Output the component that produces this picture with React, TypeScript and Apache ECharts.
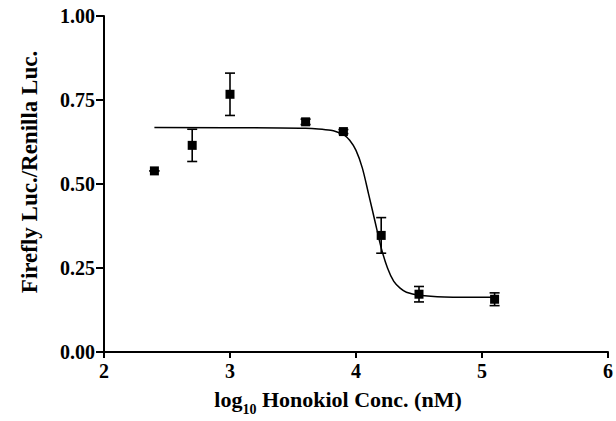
import React, { useEffect, useRef } from "react";
import * as echarts from "echarts";

// Measured points (log10 concentration, mean, error)
const pointX = [2.4, 2.7, 3.0, 3.6, 3.9, 4.2, 4.5, 5.1];
const pointMean = [0.539, 0.615, 0.767, 0.685, 0.656, 0.347, 0.172, 0.157];
const pointErr = [0, 0.048, 0.063, 0.008, 0.006, 0.053, 0.023, 0.019];

// Fitted curve
const curveX = [2.4, 3.4, 3.6, 3.7, 3.8, 3.85, 3.9, 3.95, 4.0, 4.05, 4.1, 4.15, 4.2, 4.25, 4.3, 4.35, 4.4, 4.5, 4.7, 5.1];
const curveY = [0.668, 0.667, 0.666, 0.664, 0.660, 0.655, 0.648, 0.630, 0.600, 0.548, 0.47, 0.39, 0.31, 0.25, 0.21, 0.19, 0.178, 0.169, 0.164, 0.163];

const xTicks = [2, 3, 4, 5, 6];
const yTicks = [0, 0.25, 0.5, 0.75, 1.0];

const FONT = "Liberation Serif";

export default function App() {
  const ref = useRef<HTMLDivElement>(null);
  useEffect(() => {
    if (!ref.current) return;
    const chart = echarts.init(ref.current, undefined, { renderer: "svg" });
    const axisCommon = {
      axisLine: { show: true, lineStyle: { color: "#000", width: 2 } },
      axisTick: { show: true, inside: false, lineStyle: { color: "#000", width: 2 } },
      splitLine: { show: false },
    };
    const labelStyle = {
      color: "#000",
      fontFamily: FONT,
      fontWeight: "bold" as const,
      fontSize: 20,
    };
    chart.setOption({
      animation: false,
      backgroundColor: "#fff",
      textStyle: { fontFamily: FONT, fontWeight: "bold", color: "#000" },
      grid: { left: 104, right: 1, top: 16, bottom: 62, containLabel: false },
      xAxis: {
        type: "value",
        min: xTicks[0],
        max: xTicks[xTicks.length - 1],
        interval: 1,
        ...axisCommon,
        axisTick: { ...axisCommon.axisTick, length: 6 },
        axisLabel: {
          show: true,
          margin: 9,
          ...labelStyle,
          showMinLabel: true,
          showMaxLabel: true,
        },
        name: "{a|log}{b|10}{a| Honokiol Conc. (nM)}",
        nameLocation: "middle",
        nameGap: 30,
        nameTextStyle: {
          fontFamily: FONT,
          fontWeight: "bold",
          fontSize: 22,
          color: "#000",
          padding: [0, 36, 0, 0],
          rich: {
            a: { fontFamily: FONT, fontWeight: "bold", fontSize: 22, color: "#000", lineHeight: 28 },
            b: { fontFamily: FONT, fontWeight: "bold", fontSize: 14, color: "#000", lineHeight: 34, verticalAlign: "bottom" },
          },
        },
      },
      yAxis: {
        type: "value",
        min: yTicks[0],
        max: yTicks[yTicks.length - 1],
        interval: 0.25,
        ...axisCommon,
        axisTick: { ...axisCommon.axisTick, length: 8 },
        axisLabel: {
          show: true,
          margin: 9,
          ...labelStyle,
          formatter: (v: number) => v.toFixed(2),
        },
        name: "Firefly Luc./Renilla Luc.",
        nameLocation: "middle",
        nameGap: 63,
        nameTextStyle: {
          fontFamily: FONT,
          fontWeight: "bold",
          fontSize: 23,
          color: "#000",
          padding: [0, 0, 0, 24],
        },
      },
      series: [
        {
          type: "line",
          data: curveX.map((x, i) => [x, curveY[i]]),
          symbol: "none",
          smooth: 0.3,
          lineStyle: { color: "#000", width: 1.5 },
          z: 2,
        },
        {
          type: "custom",
          data: pointX.map((x, i) => [x, pointMean[i] - pointErr[i], pointMean[i] + pointErr[i]]),
          renderItem: (params: any, api: any) => {
            const x = api.value(0);
            const lo = api.coord([x, api.value(1)]);
            const hi = api.coord([x, api.value(2)]);
            const cap = 5;
            const st = { stroke: "#000", lineWidth: 1.6 };
            return {
              type: "group",
              children: [
                { type: "line", shape: { x1: lo[0], y1: lo[1], x2: hi[0], y2: hi[1] }, style: st },
                { type: "line", shape: { x1: lo[0] - cap, y1: lo[1], x2: lo[0] + cap, y2: lo[1] }, style: st },
                { type: "line", shape: { x1: hi[0] - cap, y1: hi[1], x2: hi[0] + cap, y2: hi[1] }, style: st },
              ],
            };
          },
          z: 3,
        },
        {
          type: "scatter",
          data: pointX.map((x, i) => [x, pointMean[i]]),
          symbol: "rect",
          symbolSize: 9,
          itemStyle: { color: "#000", opacity: 1 },
          z: 4,
        },
      ],
    });
    return () => chart.dispose();
  }, []);
  return (
    <div
      ref={ref}
      style={{ position: "fixed", left: 0, top: 0, width: 616, height: 421, background: "#fff" }}
    />
  );
}
